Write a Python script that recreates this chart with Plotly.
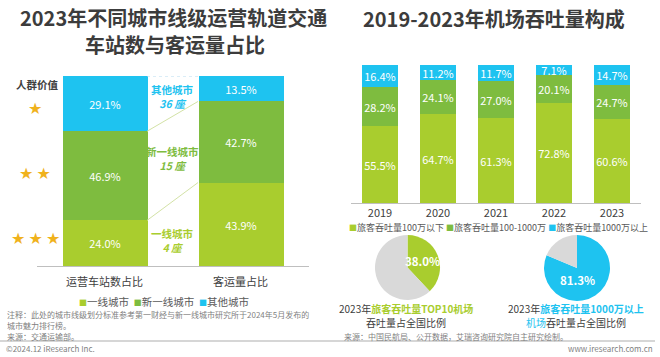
import plotly.graph_objects as go

W, H = 660, 357

# ---------------- data ----------------
left_categories = ["运营车站数占比", "客运量占比"]
left_series = ["一线城市", "新一线城市", "其他城市"]
tier1_share = [24.0, 43.9]
new_tier1_share = [46.9, 42.7]
other_share = [29.1, 13.5]
station_counts = [4, 15, 36]
star_levels = [3, 2, 1]

years = ["2019", "2020", "2021", "2022", "2023"]
right_series = ["旅客吞吐量100万以下", "旅客吞吐量100-1000万", "旅客吞吐量1000万以上"]
below_1m = [55.5, 64.7, 61.3, 72.8, 60.6]
mid_1m_10m = [28.2, 24.1, 27.0, 20.1, 24.7]
above_10m = [16.4, 11.2, 11.7, 7.1, 14.7]

top10_share = [38.0, 62.0]
over10m_share = [81.3, 18.7]

# ---------------- style ----------------
C_YG = "#A9CD2E"
C_G = "#7EBC3F"
C_C = "#1EC3F0"
C_GRAY = "#D9D9D9"
C_TXT = "#404040"
C_NOTE = "#7F7F7F"
FONT = "Noto Sans CJK SC"


def px(x):
    return x / W


def py(y):
    return 1 - y / H


fig = go.Figure()

# ---------- left stacked bars ----------
left_x = [0, 1]
bw = 0.625
for name, vals, col in zip(left_series, [tier1_share, new_tier1_share, other_share], [C_YG, C_G, C_C]):
    fig.add_trace(go.Bar(
        x=left_x, y=vals, name=name, marker=dict(color=col, line=dict(width=0)),
        width=bw, texttemplate="%{y:.1f}%", textposition="inside",
        insidetextanchor="middle", textangle=0, constraintext="none",
        textfont=dict(color="white", size=11, family=FONT),
        xaxis="x", yaxis="y", showlegend=False, hoverinfo="skip"))

# connector lines between the bars (cumulative boundaries)
cum_l = [tier1_share[0], tier1_share[0] + new_tier1_share[0]]
cum_r = [tier1_share[1], tier1_share[1] + new_tier1_share[1]]
for a, b in zip(cum_l, cum_r):
    fig.add_trace(go.Scatter(x=[bw / 2, 1 - bw / 2], y=[a, b], mode="lines",
                             line=dict(color="#D3E2A6", width=1), xaxis="x", yaxis="y",
                             showlegend=False, hoverinfo="skip"))
fig.add_trace(go.Scatter(x=[bw / 2, 1 - bw / 2], y=[100, 100], mode="lines",
                         line=dict(color="#B5DCEF", width=1, dash="dot"), xaxis="x", yaxis="y",
                         showlegend=False, hoverinfo="skip"))

# ---------- right stacked bars ----------
for name, vals, col in zip(right_series, [below_1m, mid_1m_10m, above_10m], [C_YG, C_G, C_C]):
    fig.add_trace(go.Bar(
        x=years, y=vals, name=name, marker=dict(color=col, line=dict(width=0)),
        width=0.63, texttemplate="%{y:.1f}%", textposition="inside",
        insidetextanchor="middle", textangle=0, constraintext="none",
        textfont=dict(color="white", size=11, family=FONT),
        xaxis="x2", yaxis="y2", showlegend=False, hoverinfo="skip"))

# ---------- pies ----------
fig.add_trace(go.Pie(values=top10_share, labels=["TOP10机场", "其他"], sort=False,
                     direction="clockwise", rotation=0, textinfo="none",
                     marker=dict(colors=[C_YG, C_GRAY], line=dict(width=0)),
                     domain=dict(x=[px(375), px(440)], y=[py(300), py(235)]),
                     showlegend=False, hoverinfo="skip"))
fig.add_trace(go.Pie(values=over10m_share, labels=["1000万以上", "其他"], sort=False,
                     direction="clockwise", rotation=0, textinfo="none",
                     marker=dict(colors=[C_C, C_GRAY], line=dict(width=0)),
                     domain=dict(x=[px(544), px(610)], y=[py(301), py(235)]),
                     showlegend=False, hoverinfo="skip"))

ann = []


def A(x, y, text, size=10, color=C_TXT, xanchor="center", yanchor="middle", family=FONT):
    ann.append(dict(x=px(x), y=py(y), xref="paper", yref="paper", text=text, showarrow=False,
                    xanchor=xanchor, yanchor=yanchor, font=dict(size=size, color=color, family=family)))


# titles
A(173, 17, "<b>2023年不同城市线级运营轨道交通</b>", size=20, color="#3C3C3C")
A(175, 44, "<b>车站数与客运量占比</b>", size=20, color="#3C3C3C")
A(494, 18, "<b>2019-2023年机场吞吐量构成</b>", size=20, color="#3C3C3C")

# left side value column
A(37, 84, "<b>人群价值</b>", size=10.5)
for lvl, yy in zip(star_levels, [239, 173, 108]):
    A(35, yy, "\u2009".join(["★"] * lvl), size=16, color="#F0B21C", family="DejaVu Sans")

# middle tier labels
mid_cols = [C_YG, C_G, C_C]
for name, cnt, col, yy in zip(left_series, station_counts, mid_cols, [240, 158.5, 97]):
    A(172.5, yy, f"<b>{name}</b><br><b><i>{cnt} 座</i></b>", size=10.5, color=col)

# legends
sq = "<span style='font-size:8px;color:{c}'>■</span>"
leg_l = "  ".join(sq.format(c=c) + n for c, n in zip([C_YG, C_G, C_C], left_series))
A(164, 301, leg_l, size=10.5, color="#595959")
leg_r = " ".join(sq.format(c=c) + n for c, n in zip([C_YG, C_G, C_C], right_series))
A(498, 227, leg_r, size=9, color="#595959")

# pie labels
A(422, 261, f"<b>{top10_share[0]:.1f}%</b>", size=11.5, color="white")
A(577, 280, f"<b>{over10m_share[0]:.1f}%</b>", size=11.5, color="white")

# pie captions
A(406, 308, f"2023年<b><span style='color:{C_YG}'>旅客吞吐量TOP10机场</span></b>", size=10)
A(406, 322, "吞吐量占全国比例", size=10)
A(576, 308, f"2023年<b><span style='color:{C_C}'>旅客吞吐量1000万以上</span></b>", size=10)
A(576, 322, f"<span style='color:{C_C}'>机场</span>吞吐量占全国比例", size=10)

# notes
A(5, 314, "注释：此处的城市线级划分标准参考第一财经与新一线城市研究所于2024年5月发布的", size=8, color=C_NOTE, xanchor="left")
A(5, 325, "城市魅力排行榜。", size=8, color=C_NOTE, xanchor="left")
A(5, 336, "来源：交通运输部。", size=8, color=C_NOTE, xanchor="left")
A(342, 336, "来源：中国民航局、公开数据，艾瑞咨询研究院自主研究绘制。", size=8, color=C_NOTE, xanchor="left")
A(4, 348, "©2024.12 iResearch Inc.", size=8, color=C_NOTE, xanchor="left")
A(655, 348, "www.iresearch.com.cn", size=8, color=C_NOTE, xanchor="right")

shapes = [dict(type="line", xref="paper", yref="paper", x0=0, x1=px(655), y0=py(341), y1=py(341),
               line=dict(color="#C8C8C8", width=1.5))]

fig.update_layout(
    width=W, height=H, margin=dict(l=0, r=0, t=0, b=0),
    paper_bgcolor="white", plot_bgcolor="white",
    barmode="stack", bargap=0,
    font=dict(family=FONT, color=C_TXT),
    xaxis=dict(domain=[px(36.5), px(308.5)], range=[-0.5, 1.5], tickvals=left_x,
               ticktext=left_categories, showline=True, linecolor="#BFBFBF", linewidth=1,
               showgrid=False, zeroline=False, ticks="", ticklabelstandoff=6,
               tickfont=dict(size=11, color=C_TXT, family=FONT), anchor="y", fixedrange=True),
    yaxis=dict(domain=[py(266), py(76)], range=[0, 100], visible=False, anchor="x", fixedrange=True),
    xaxis2=dict(domain=[px(351), px(641)], range=[-0.5, 4.5], type="category",
                showline=True, linecolor="#BFBFBF", linewidth=1, showgrid=False, zeroline=False,
                ticks="", tickfont=dict(size=11, color=C_TXT, family=FONT), anchor="y2", fixedrange=True),
    yaxis2=dict(domain=[py(203), py(65)], range=[0, 100], visible=False, anchor="x2", fixedrange=True),
    annotations=ann, shapes=shapes, showlegend=False,
)

fig.write_html("out.html", config={"displayModeBar": False},
               post_script="document.body.style.margin='0';document.body.style.overflow='hidden';")
